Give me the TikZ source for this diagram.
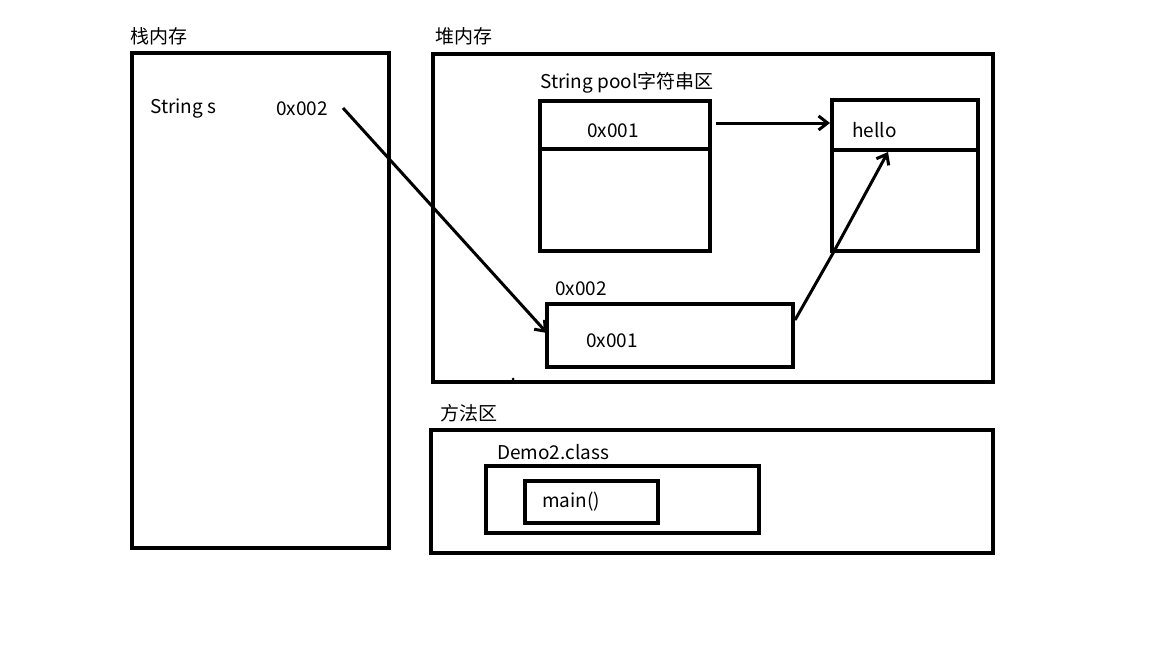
\documentclass[tikz,border=0pt]{standalone}
\usepackage{fontspec}
\setmainfont{Noto Sans CJK SC}
\usetikzlibrary{arrows.meta}
\begin{document}
\begin{tikzpicture}[x=1pt,y=-1pt,
  box/.style={draw,line width=3.5pt},
  lbl/.style={anchor=west,inner sep=0pt,font=\fontsize{19}{22}\selectfont},
  arr/.style={line width=3pt,-{Straight Barb[length=9pt,width=14pt]}}]
\useasboundingbox (0,0) rectangle (1152,648);
\node[lbl] (ls) at (130,36) {栈内存};
\draw[box] (132,53) rectangle (389,548);
\node[lbl] (ss) at (150,109) {String s};
\node[lbl] (sv) at (276,109) {0x002};
\node[lbl] (lh) at (435,36) {堆内存};
\draw[box] (433,54) rectangle (993,382);
\node[lbl] (lp) at (540,83) {String pool字符串区};
\draw[box] (540,101) rectangle (710,251);
\draw[box] (538,149) -- (712,149);
\node[lbl] (p1) at (587,131) {0x001};
\draw[box] (832,100) rectangle (978,251);
\draw[box] (832,150) -- (976,150);
\node[lbl] (hl) at (852,130) {hello};
\coordinate (a1) at (716,123);
\coordinate (a2) at (830,123);
\draw[arr] (a1) -- (a2);
\node[lbl] (o2) at (555,289) {0x002};
\draw[box] (547,304) rectangle (793,367);
\node[lbl] (o1) at (586,341) {0x001};
\coordinate (b1) at (343,108);
\coordinate (b2) at (547,333);
\draw[arr] (b1) -- (b2);
\coordinate (c1) at (795,320);
\coordinate (c2) at (832,255);
\coordinate (c3) at (888,152);
\draw[arr] (c1) -- (c2) -- (c3);
\fill (513,379) circle (1.5pt);
\node[lbl] (lm) at (440,413) {方法区};
\draw[box] (431,430) rectangle (993,553);
\node[lbl] (dc) at (497,452) {Demo2.class};
\draw[box] (486,466) rectangle (759,533);
\draw[box] (525,481) rectangle (658,523);
\node[lbl] (mn) at (542,502) {main()};
\end{tikzpicture}
\end{document}
